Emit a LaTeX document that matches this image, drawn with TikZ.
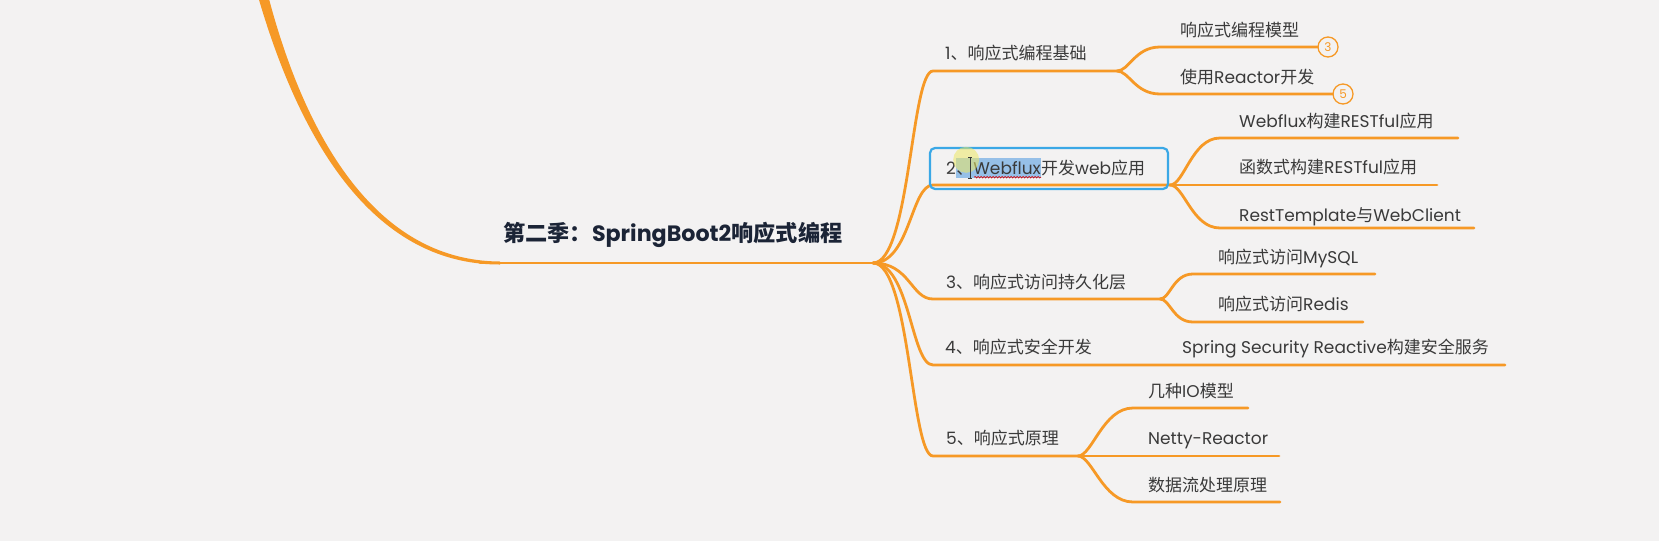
\documentclass[tikz,border=0pt]{standalone}
\usepackage{fontspec}
\setmainfont{Poppins}
\newfontfamily\cjkf{Noto Sans CJK SC}
\usetikzlibrary{decorations.pathmorphing}
\definecolor{bg}{RGB}{243,242,242}
\definecolor{org}{RGB}{246,153,38}
\definecolor{txtc}{RGB}{58,58,58}
\definecolor{ttl}{RGB}{27,36,54}
\definecolor{boxblue}{RGB}{58,168,230}
\definecolor{hlblue}{RGB}{150,192,232}
\definecolor{halo}{RGB}{236,232,100}
\newcommand\C[1]{{\cjkf #1}}
\begin{document}
\begin{tikzpicture}[x=1pt,y=-1pt,
  lbl/.style={anchor=base west, inner sep=0pt, text=txtc, font=\fontsize{17}{20}\selectfont},
  ttlstyle/.style={anchor=base west, inner sep=0pt, text=ttl, font=\fontsize{22.2}{25}\selectfont\bfseries},
  br/.style={draw=org, line width=2.8pt, line cap=round},
  circ/.style={circle, draw=org, line width=1.3pt, fill=bg, minimum size=20pt, inner sep=0pt, text=org, font=\fontsize{12}{12}\selectfont},
  selbox/.style={draw=boxblue, line width=2.2pt, rounded corners=5pt, minimum width=238pt, minimum height=41pt, inner sep=0pt}]
\useasboundingbox (0,0) rectangle (1659,541);
\fill[bg] (0,0) rectangle (1659,541);

% coordinates
\coordinate (r0) at (480,263);
\coordinate (hub) at (873,263);
\coordinate (c1) at (933,71);  \coordinate (s1) at (1117,71);
\coordinate (a11) at (1160,47); \coordinate (a12) at (1160,94);
\coordinate (c2) at (933,185); \coordinate (s2) at (1170,185);
\coordinate (a21) at (1220,138); \coordinate (e21) at (1458,138);
\coordinate (e22) at (1437,185);
\coordinate (a23) at (1220,228); \coordinate (e23) at (1474,228);
\coordinate (c3) at (933,299); \coordinate (s3) at (1160,299);
\coordinate (a31) at (1193,274); \coordinate (e31) at (1375,274);
\coordinate (a32) at (1193,322); \coordinate (e32) at (1363,322);
\coordinate (c4) at (933,365); \coordinate (e4) at (1505,365);
\coordinate (c5) at (933,456); \coordinate (s5) at (1078,456);
\coordinate (a51) at (1133,408); \coordinate (e51) at (1248,408);
\coordinate (e52) at (1279,456);
\coordinate (a53) at (1133,502); \coordinate (e53) at (1280,502);

% big incoming tapered curve
\fill[org] (258.2,-3) .. controls (297.1,130.8) and (368,265) .. (500,264.5)
  -- (500,261.5) .. controls (372,261) and (302.9,129.2) .. (267.8,-5.6) -- cycle;
\draw[br] (r0) -- (hub);

% level-1 connectors
\draw[br] (hub) .. controls +(37,0) and +(-22,0) .. (c1) -- (s1);
\draw[br] (hub) .. controls +(37,0) and +(-22,0) .. (c2) -- (s2);
\draw[br] (hub) .. controls +(37,0) and +(-22,0) .. (c3) -- (s3);
\draw[br] (hub) .. controls +(37,0) and +(-22,0) .. (c4) -- (e4);
\draw[br] (hub) .. controls +(37,0) and +(-22,0) .. (c5) -- (s5);

% circles
\node[circ] (k3) at (1328,47) {3};
\node[circ] (k5) at (1343,94) {5};

% level-2 connectors
\draw[br] (s1) .. controls +(12,0) and +(-25,0) .. (a11) -- (k3.west);
\draw[br] (s1) .. controls +(12,0) and +(-25,0) .. (a12) -- (k5.west);
\draw[br] (s2) .. controls +(14,0) and +(-28,0) .. (a21) -- (e21);
\draw[br] (s2) -- (e22);
\draw[br] (s2) .. controls +(14,0) and +(-28,0) .. (a23) -- (e23);
\draw[br] (s3) .. controls +(10,0) and +(-20,0) .. (a31) -- (e31);
\draw[br] (s3) .. controls +(10,0) and +(-20,0) .. (a32) -- (e32);
\draw[br] (s5) .. controls +(14,0) and +(-30,0) .. (a51) -- (e51);
\draw[br] (s5) -- (e52);
\draw[br] (s5) .. controls +(14,0) and +(-30,0) .. (a53) -- (e53);

% title
\node[ttlstyle] (root) at (503,241.5) {\C{第二季：}SpringBoot2\C{响应式编程}};

% level-1 labels
\node[lbl] (t1) at (945,59.5) {1\C{、响应式编程基础}};
\node[selbox] (b2) at (1049,168.5) {};
\node[lbl] (t2a) at (946,174.5) {2};
\node[lbl, fill=hlblue, text height=16.5pt, text depth=3.5pt] (t2b) at (t2a.base east) {\C{、}Webflux};
\node[lbl] (t2c) at (t2b.base east) {\C{开发}web\C{应用}};
\fill[halo, opacity=0.55] ([xshift=10pt,yshift=-2pt]t2b.north west) circle (13pt);
\draw[txtc, line width=0.9pt] ([xshift=14pt]t2b.south west) -- ([xshift=14pt]t2b.north west)
  ([xshift=12pt]t2b.south west) -- ([xshift=16pt]t2b.south west)
  ([xshift=12pt]t2b.north west) -- ([xshift=16pt]t2b.north west);
\draw[red!85!black, line width=0.6pt, decorate, decoration={snake, amplitude=0.8pt, segment length=3pt}]
  ([xshift=18pt,yshift=1pt]t2b.south west) -- ([yshift=1pt]t2b.south east);
\node[lbl] (t3) at (946,288.5) {3\C{、响应式访问持久化层}};
\node[lbl] (t4) at (945,353.5) {4\C{、响应式安全开发}};
\node[lbl] (t5) at (946,444) {5\C{、响应式原理}};

% level-2 labels
\node[lbl] (u11) at (1180,36) {\C{响应式编程模型}};
\node[lbl] (u12) at (1180,83) {\C{使用}Reactor\C{开发}};
\node[lbl] (u21) at (1239,127.5) {Webflux\C{构建}RESTful\C{应用}};
\node[lbl] (u22) at (1239,173.5) {\C{函数式构建}RESTful\C{应用}};
\node[lbl] (u23) at (1239,221.5) {RestTemplate\C{与}WebClient};
\node[lbl] (u31) at (1218,263.5) {\C{响应式访问}MySQL};
\node[lbl] (u32) at (1218,310.5) {\C{响应式访问}Redis};
\node[lbl] (u41) at (1182,353.5) {Spring Security Reactive\C{构建安全服务}};
\node[lbl] (u51) at (1148,397) {\C{几种}IO\C{模型}};
\node[lbl] (u52) at (1148,444.5) {Netty-Reactor};
\node[lbl] (u53) at (1148,491) {\C{数据流处理原理}};
\end{tikzpicture}
\end{document}
